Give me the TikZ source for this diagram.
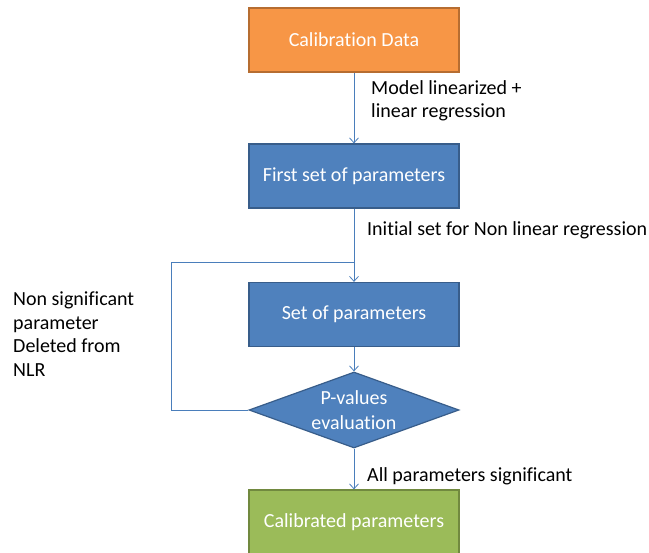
\documentclass[tikz,border=0pt]{standalone}
\usepackage{fontspec}
\setmainfont[Ligatures=NoCommon]{Carlito}
\usetikzlibrary{shapes.geometric,arrows.meta}
\definecolor{orfill}{HTML}{F79646}
\definecolor{ordraw}{HTML}{B66D31}
\definecolor{blfill}{HTML}{4F81BD}
\definecolor{bldraw}{HTML}{385D8A}
\definecolor{grfill}{HTML}{9BBB59}
\definecolor{grdraw}{HTML}{71893F}
\definecolor{conn}{HTML}{4A7EBB}
\tikzset{
  box/.style={rectangle, minimum width=210pt, minimum height=64pt, line width=1.2pt, text=white, font=\fontsize{20}{24}\selectfont, inner sep=0pt},
  dia/.style={diamond, minimum width=210pt, minimum height=76pt, inner sep=0pt, aspect=2.8, line width=1.2pt, fill=blfill, draw=bldraw, text=white, align=center, font=\fontsize{20}{25}\selectfont},
  conn/.style={draw=conn, line width=0.8pt},
  arr/.style={conn, -{Straight Barb[length=5pt,width=9pt]}},
  lbl/.style={anchor=base west, align=left, inner sep=0pt, font=\fontsize{20}{23.5}\selectfont, text=black}
}
\begin{document}
\begin{tikzpicture}[x=1pt,y=-1pt]
\useasboundingbox (0,0) rectangle (649,553);
\clip (0,0) rectangle (649,553);
\fill[white] (0,0) rectangle (649,553);
\node[box, fill=orfill, draw=ordraw] (cal) at (354,40) {Calibration Data};
\node[box, fill=blfill, draw=bldraw] (first) at (354,176) {First set of parameters};
\node[box, fill=blfill, draw=bldraw] (set) at (354,314.5) {Set of parameters};
\node[dia] (pval) at (354,410) {P-values\\evaluation};
\node[box, fill=grfill, draw=grdraw] (calp) at (354,522) {Calibrated parameters};
\coordinate (loopL) at (171,262);
\coordinate (loopJ) at (354,262);

\draw[arr] (cal.south) -- (first.north);
\draw[arr] (first.south) -- (set.north);
\draw[conn] (pval.west) -| (loopL) -- (loopJ);
\draw[arr] (set.south) -- (pval.north);
\draw[arr] (pval.south) -- (calp.north);

\node[lbl] (l1) at (371,118) {Model linearized +\\linear regression};
\node[lbl] (l2) at (367,236) {Initial set for Non linear regression};
\node[lbl] (l3) at (13,376.5) {Non significant\\parameter\\Deleted from\\NLR};
\node[lbl] (l4) at (367,482) {All parameters significant};
\end{tikzpicture}
\end{document}
